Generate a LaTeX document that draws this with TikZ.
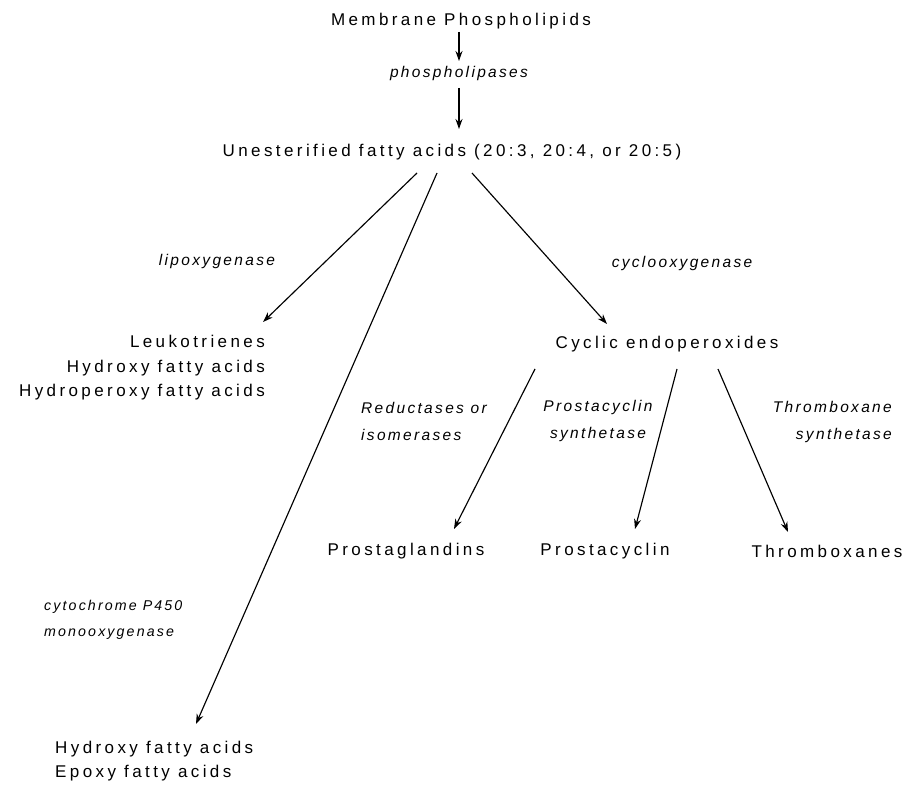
\documentclass[tikz,border=0pt]{standalone}
\usepackage{fontspec}
\setmainfont{Liberation Sans}[LetterSpace=20]
\newfontfamily\enzfont{Liberation Sans Italic}[LetterSpace=15]
\usetikzlibrary{arrows.meta}
\tikzset{
  main/.style={font=\fontsize{17}{24.5}\selectfont, inner sep=0pt},
  enz/.style={font=\fontsize{15.5}{27}\selectfont\enzfont, inner sep=0pt},
  enzsmall/.style={font=\fontsize{14.2}{26}\selectfont\enzfont, inner sep=0pt},
  conn/.style={line width=1.15pt, -{Stealth[length=10pt,width=7pt]}},
}
\begin{document}
\begin{tikzpicture}[x=1pt,y=-1pt]
\useasboundingbox (0,0) rectangle (908,786);
% nodes
\node[main] (mp) at (461,21) {Membrane Phospholipids};
\node[enz] (pl) at (459,73) {phospholipases};
\node[main] (ufa) at (452,152) {Unesterified fatty acids (20:3, 20:4, or 20:5)};
\node[enz] (lox) at (217,261) {lipoxygenase};
\node[enz] (cox) at (682,263) {cyclooxygenase};
\node[main, align=right, anchor=east] (leu) at (265,368) {Leukotrienes\\Hydroxy fatty acids\\Hydroperoxy fatty acids};
\node[main] (ce) at (667,344) {Cyclic endoperoxides};
\node[enz, align=left, anchor=west] (red) at (361,421) {Reductases or\\isomerases};
\node[enz, align=center] (pcs) at (598,421) {Prostacyclin\\synthetase};
\node[enz, align=right, anchor=east] (txs) at (892,422) {Thromboxane\\synthetase};
\node[main] (pg) at (406,551) {Prostaglandins};
\node[main] (pc) at (605,551) {Prostacyclin};
\node[main] (tx) at (827,551) {Thromboxanes};
\node[enzsmall, align=left, anchor=west] (cyp) at (44,620) {cytochrome P450\\monooxygenase};
\node[main, align=left, anchor=west] (hfa) at (55,761) {Hydroxy fatty acids\\Epoxy fatty acids};
% connector end points
\coordinate (mpS) at (459,32);
\coordinate (plN) at (459,61);
\coordinate (plS) at (459,88);
\coordinate (ufaN) at (459,129);
\coordinate (ufaL) at (417,173);
\coordinate (ufaM) at (437,173);
\coordinate (ufaR) at (472,173);
\coordinate (leuN) at (263,322);
\coordinate (hfaN) at (196,724);
\coordinate (ceN) at (607,324);
\coordinate (ceL) at (535,369);
\coordinate (ceM) at (677,369);
\coordinate (ceR) at (718,369);
\coordinate (pgN) at (454,529);
\coordinate (pcN) at (635,529);
\coordinate (txN) at (788,532);
% connectors
\draw[conn] (mpS) -- (plN);
\draw[conn] (plS) -- (ufaN);
\draw[conn] (ufaL) -- (leuN);
\draw[conn] (ufaM) -- (hfaN);
\draw[conn] (ufaR) -- (ceN);
\draw[conn] (ceL) -- (pgN);
\draw[conn] (ceM) -- (pcN);
\draw[conn] (ceR) -- (txN);
\end{tikzpicture}
\end{document}
